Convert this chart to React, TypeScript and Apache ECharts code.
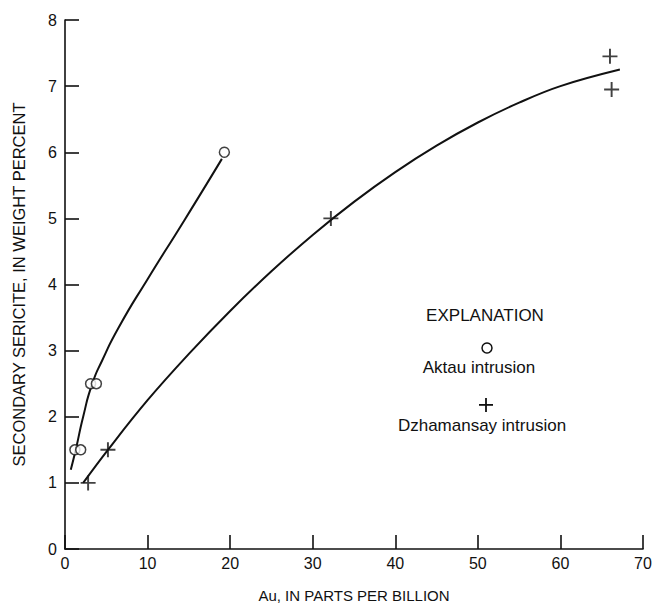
import React, { useEffect, useRef } from "react";
import * as echarts from "echarts";

// Observed samples
const aktauPoints: [number, number][] = [
  [1.2, 1.5], [1.9, 1.5], [3.1, 2.5], [3.8, 2.5], [19.3, 6.0],
];
const dzhamansayPoints: [number, number][] = [
  [2.8, 1.0], [5.2, 1.5], [32.2, 5.0], [66.0, 7.45], [66.2, 6.95],
];
// Hand-drawn trend curves
const aktauCurve: [number, number][] = [
  [0.7, 1.2], [1.3, 1.5], [2.2, 2.0], [3.3, 2.5], [4.5, 2.85], [6.5, 3.35],
  [10.0, 4.08], [14.5, 4.98], [19.0, 5.9],
];
const dzhamansayCurve: [number, number][] = [
  [2.2, 1.0], [5.2, 1.5], [10, 2.25], [15, 2.95], [20, 3.6], [25, 4.2],
  [30, 4.75], [35, 5.25], [40, 5.7], [45, 6.1], [50, 6.45], [55, 6.75],
  [60, 7.0], [67.2, 7.25],
];
const xTicks = [0, 10, 20, 30, 40, 50, 60, 70];
const yTicks = [0, 1, 2, 3, 4, 5, 6, 7, 8];

const xTitle = "Au, IN PARTS PER BILLION";
const yTitle = "SECONDARY SERICITE, IN WEIGHT PERCENT";
const legendTitle = "EXPLANATION";
const aktauName = "Aktau intrusion";
const dzhName = "Dzhamansay intrusion";

const FONT = "'Liberation Sans', Arial, sans-serif";
const INK = "#111";
const PLUS = "path://M0,6.1H14V7.9H0Z M6.1,0H7.9V14H6.1Z";

export default function App() {
  const ref = useRef<HTMLDivElement>(null);
  useEffect(() => {
    if (!ref.current) return;
    const chart = echarts.init(ref.current, undefined, { renderer: "svg" });
    const axisCommon = {
      axisLine: { show: true, lineStyle: { color: INK, width: 1.6 } },
      axisTick: { show: true, inside: true, length: 14, lineStyle: { color: INK, width: 1.6 } },
      splitLine: { show: false },
      nameLocation: "middle" as const,
    };
    chart.setOption({
      animation: false,
      backgroundColor: "#fff",
      grid: { left: 65, right: 13, top: 20, bottom: 56, containLabel: false },
      xAxis: {
        type: "value",
        min: xTicks[0],
        max: xTicks[xTicks.length - 1],
        interval: 10,
        ...axisCommon,
        name: xTitle,
        nameGap: 39,
        nameTextStyle: { fontFamily: FONT, fontSize: 15, color: INK },
        axisLabel: { fontFamily: FONT, fontSize: 16, color: INK, margin: 6 },
      },
      yAxis: {
        type: "value",
        min: yTicks[0],
        max: yTicks[yTicks.length - 1],
        interval: 1,
        ...axisCommon,
        name: yTitle,
        nameGap: 38,
        nameTextStyle: { fontFamily: FONT, fontSize: 16.5, color: INK },
        axisLabel: { fontFamily: FONT, fontSize: 16, color: INK, margin: 8 },
      },
      series: [
        {
          type: "line",
          data: aktauCurve,
          smooth: 0.6,
          showSymbol: false,
          lineStyle: { color: INK, width: 2 },
          z: 2,
        },
        {
          type: "line",
          data: dzhamansayCurve,
          smooth: 0.4,
          showSymbol: false,
          lineStyle: { color: INK, width: 2 },
          z: 2,
        },
        {
          type: "scatter",
          name: aktauName,
          data: aktauPoints,
          symbol: "circle",
          symbolSize: 10,
          itemStyle: { color: "#fff", borderColor: INK, borderWidth: 1.5 },
          z: 3,
        },
        {
          type: "scatter",
          name: dzhName,
          data: dzhamansayPoints,
          symbol: PLUS,
          symbolSize: 15,
          itemStyle: { color: INK },
          z: 3,
        },
      ],
      graphic: [
        {
          type: "text",
          x: 485,
          y: 315,
          style: { text: legendTitle, fontFamily: FONT, fontSize: 17, fill: INK, align: "center", verticalAlign: "middle" },
        },
        {
          type: "circle",
          shape: { cx: 487, cy: 348, r: 5 },
          style: { fill: "#fff", stroke: INK, lineWidth: 1.5 },
        },
        {
          type: "text",
          x: 479,
          y: 367,
          style: { text: aktauName, fontFamily: FONT, fontSize: 17, fill: INK, align: "center", verticalAlign: "middle" },
        },
        {
          type: "rect",
          shape: { x: 479, y: 404, width: 14, height: 1.8 },
          style: { fill: INK },
        },
        {
          type: "rect",
          shape: { x: 485.1, y: 398, width: 1.8, height: 14 },
          style: { fill: INK },
        },
        {
          type: "text",
          x: 482,
          y: 425,
          style: { text: dzhName, fontFamily: FONT, fontSize: 17, fill: INK, align: "center", verticalAlign: "middle" },
        },
      ],
    });
    return () => chart.dispose();
  }, []);
  return (
    <div
      ref={ref}
      style={{ position: "absolute", left: 0, top: 0, width: 656, height: 608 }}
    />
  );
}
